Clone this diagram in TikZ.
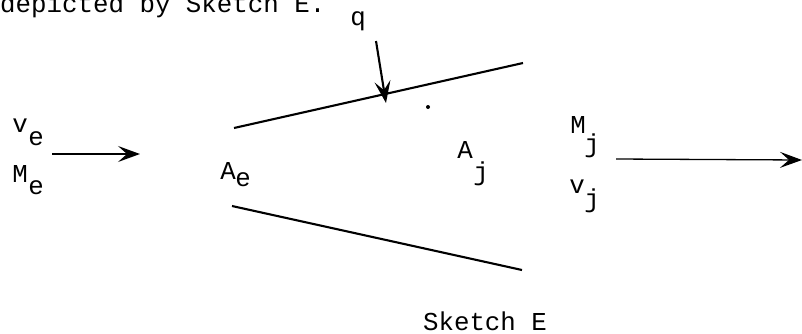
\documentclass[tikz,border=0pt]{standalone}
\usepackage{fontspec}
\setmainfont{Liberation Mono}
\usetikzlibrary{arrows.meta}
\begin{document}
\begin{tikzpicture}[x=1bp,y=-1bp,>={Stealth[length=22bp,width=16bp,inset=9bp]},every node/.style={font=\fontsize{25.8bp}{28bp}\selectfont,inner sep=0pt,anchor=base,text=black}]
\tikzset{wall/.style={line width=2.1bp},flow/.style={->,line width=1.3bp}}
\useasboundingbox (0,0) rectangle (802,333);
\node[anchor=base west] (T) at (0,12) {depicted by Sketch E.};
\node (q) at (358,25) {q};
\node (ve) at (20,132) {v};
\node (ves) at (36,145) {e};
\node (Me) at (20,182) {M};
\node (Mes) at (36,194) {e};
\node (Ae) at (228,179) {A};
\node (Aes) at (243,186) {e};
\node (Aj) at (465,158) {A};
\node (Ajs) at (481,180) {j};
\node (Mj) at (578,133) {M};
\node (Mjs) at (592,152) {j};
\node (vj) at (577,193) {v};
\node (vjs) at (592,207) {j};
\node (S) at (485,330) {Sketch E};
\fill (428,107) circle (2bp);
\coordinate (FA) at (52,154);
\coordinate (FB) at (140,154);
\coordinate (JA) at (616,159);
\coordinate (JB) at (802,160);
\coordinate (QA) at (376,41);
\coordinate (QB) at (386,103);
\coordinate (UA) at (234,128);
\coordinate (UB) at (523,63);
\coordinate (LA) at (232,206);
\coordinate (LB) at (522,270);
\draw[flow] (FA) -- (FB);
\draw[flow] (JA) -- (JB);
\draw[wall,->] (QA) -- (QB);
\draw[wall] (UA) -- (UB);
\draw[wall] (LA) -- (LB);
\end{tikzpicture}
\end{document}
